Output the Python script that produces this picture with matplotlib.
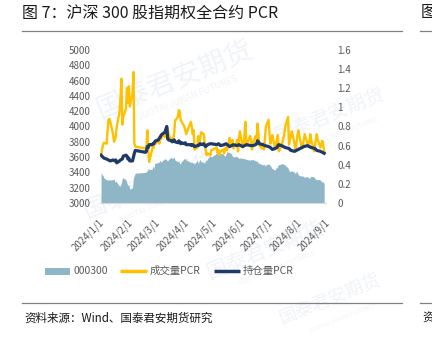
import pandas as pd
import matplotlib
matplotlib.use("Agg")
import matplotlib.pyplot as plt
import matplotlib.dates as mdates
from matplotlib.lines import Line2D
from matplotlib.patches import Rectangle

plt.rcParams['font.family'] = ['Noto Sans CJK SC', 'DejaVu Sans']

# 沪深300收盘价
hs300_dates = [
    '01-02', '01-03', '01-04', '01-05', '01-08', '01-09', '01-10', '01-11', '01-12', '01-15',
    '01-16', '01-17', '01-18', '01-19', '01-22', '01-23', '01-24', '01-25', '01-26', '01-29',
    '01-30', '01-31', '02-01', '02-02', '02-05', '02-06', '02-07', '02-08', '02-19', '02-20',
    '02-21', '02-22', '02-23', '02-26', '02-27', '02-28', '02-29', '03-01', '03-04', '03-05',
    '03-06', '03-07', '03-08', '03-11', '03-12', '03-13', '03-14', '03-15', '03-18', '03-19',
    '03-20', '03-21', '03-22', '03-25', '03-26', '03-27', '03-28', '03-29', '04-01', '04-02',
    '04-03', '04-08', '04-09', '04-10', '04-11', '04-12', '04-15', '04-16', '04-17', '04-18',
    '04-19', '04-22', '04-23', '04-24', '04-25', '04-26', '04-29', '04-30', '05-06', '05-07',
    '05-08', '05-09', '05-10', '05-13', '05-14', '05-15', '05-16', '05-17', '05-20', '05-21',
    '05-22', '05-23', '05-24', '05-27', '05-28', '05-29', '05-30', '05-31', '06-03', '06-04',
    '06-05', '06-06', '06-07', '06-11', '06-12', '06-13', '06-14', '06-17', '06-18', '06-19',
    '06-20', '06-21', '06-24', '06-25', '06-26', '06-27', '06-28', '07-01', '07-02', '07-03',
    '07-04', '07-05', '07-08', '07-09', '07-10', '07-11', '07-12', '07-15', '07-16', '07-17',
    '07-18', '07-19', '07-22', '07-23', '07-24', '07-25', '07-26', '07-29', '07-30', '07-31',
    '08-01', '08-02', '08-05', '08-06', '08-07', '08-08', '08-09', '08-12', '08-13', '08-14',
    '08-15', '08-16', '08-19', '08-20', '08-21', '08-22', '08-23', '08-26', '08-27', '08-28',
    '08-29', '08-30',
]
hs300_close = [
    3400, 3370, 3360, 3330, 3300, 3310, 3290, 3310, 3300, 3305,
    3320, 3270, 3290, 3270, 3220, 3230, 3270, 3320, 3330, 3300,
    3260, 3230, 3240, 3180, 3200, 3330, 3360, 3390, 3400, 3410,
    3420, 3450, 3440, 3440, 3480, 3450, 3520, 3520, 3530, 3540,
    3560, 3530, 3550, 3580, 3570, 3560, 3550, 3570, 3600, 3580,
    3590, 3600, 3560, 3540, 3550, 3510, 3520, 3540, 3580, 3580,
    3560, 3530, 3540, 3520, 3530, 3510, 3560, 3510, 3550, 3570,
    3540, 3530, 3520, 3560, 3550, 3580, 3620, 3600, 3650, 3650,
    3630, 3660, 3650, 3640, 3620, 3610, 3640, 3670, 3660, 3650,
    3640, 3610, 3600, 3610, 3600, 3600, 3580, 3590, 3580, 3590,
    3570, 3580, 3570, 3560, 3570, 3560, 3570, 3550, 3550, 3540,
    3520, 3520, 3500, 3500, 3510, 3480, 3500, 3510, 3500, 3490,
    3460, 3450, 3430, 3460, 3460, 3490, 3500, 3510, 3520, 3500,
    3510, 3490, 3460, 3420, 3410, 3420, 3420, 3400, 3380, 3420,
    3400, 3370, 3350, 3360, 3350, 3340, 3340, 3340, 3340, 3320,
    3340, 3350, 3340, 3320, 3310, 3300, 3310, 3300, 3280, 3270,
    3280, 3250,
]

# 成交量PCR
vol_dates = [
    '01-02', '01-04', '01-05', '01-08', '01-09', '01-10', '01-11', '01-12', '01-15', '01-16',
    '01-17', '01-18', '01-19', '01-22', '01-23', '01-24', '01-25', '01-26', '01-29', '01-30',
    '01-31', '02-01', '02-02', '02-05', '02-06', '02-07', '02-08', '02-19', '02-20', '02-21',
    '02-22', '02-23', '02-26', '02-27', '02-28', '02-29', '03-01', '03-04', '03-05', '03-06',
    '03-07', '03-08', '03-11', '03-12', '03-13', '03-14', '03-15', '03-18', '03-19', '03-20',
    '03-21', '03-22', '03-25', '03-26', '03-27', '03-28', '03-29', '04-01', '04-02', '04-03',
    '04-08', '04-09', '04-10', '04-11', '04-12', '04-15', '04-16', '04-17', '04-18', '04-19',
    '04-22', '04-23', '04-24', '04-25', '04-26', '04-29', '04-30', '05-06', '05-07', '05-08',
    '05-09', '05-10', '05-13', '05-14', '05-15', '05-16', '05-17', '05-20', '05-21', '05-22',
    '05-23', '05-24', '05-27', '05-28', '05-29', '05-30', '05-31', '06-03', '06-04', '06-05',
    '06-06', '06-07', '06-11', '06-12', '06-13', '06-14', '06-17', '06-18', '06-19', '06-20',
    '06-21', '06-24', '06-25', '06-26', '06-27', '06-28', '07-01', '07-02', '07-03', '07-04',
    '07-05', '07-08', '07-09', '07-10', '07-11', '07-12', '07-15', '07-16', '07-17', '07-18',
    '07-19', '07-22', '07-23', '07-24', '07-25', '07-26', '07-29', '07-30', '07-31', '08-01',
    '08-02', '08-05', '08-06', '08-07', '08-08', '08-09', '08-12', '08-13', '08-14', '08-15',
    '08-16', '08-19', '08-20', '08-21', '08-22', '08-23', '08-26', '08-27', '08-28', '08-29',
    '08-30',
]
vol_pcr = [
    0.50, 0.60, 0.63, 0.62, 0.75, 0.87, 0.88, 0.85, 0.72, 0.64,
    0.66, 0.70, 0.80, 0.95, 1.10, 1.30, 0.82, 0.90, 0.99, 1.20,
    1.05, 1.22, 1.01, 1.15, 1.37, 0.62, 0.59, 0.57, 0.58, 0.76,
    0.55, 0.43, 0.55, 0.60, 0.58, 0.64, 0.62, 0.66, 0.62, 0.70,
    0.67, 0.72, 0.69, 0.74, 0.70, 0.78, 0.72, 0.64, 0.68, 0.66,
    0.72, 0.86, 0.90, 0.97, 0.96, 0.87, 0.85, 0.80, 0.76, 0.72,
    0.85, 0.80, 0.72, 0.76, 0.56, 0.58, 0.70, 0.60, 0.66, 0.74,
    0.72, 0.62, 0.55, 0.50, 0.52, 0.50, 0.55, 0.58, 0.52, 0.55,
    0.50, 0.54, 0.56, 0.52, 0.57, 0.58, 0.55, 0.68, 0.62, 0.60,
    0.66, 0.57, 0.62, 0.66, 0.54, 0.68, 0.75, 0.58, 0.62, 0.72,
    0.85, 0.60, 0.70, 0.66, 0.56, 0.62, 0.70, 0.66, 0.83, 0.72,
    0.60, 0.57, 0.62, 0.56, 0.66, 0.80, 0.87, 0.72, 0.62, 0.66,
    0.71, 0.57, 0.62, 0.66, 0.71, 0.54, 0.60, 0.64, 0.68, 0.72,
    0.80, 0.90, 0.61, 0.66, 0.70, 0.75, 0.62, 0.54, 0.62, 0.70,
    0.76, 0.62, 0.57, 0.60, 0.66, 0.72, 0.62, 0.64, 0.62, 0.72,
    0.66, 0.54, 0.60, 0.66, 0.72, 0.66, 0.58, 0.62, 0.65, 0.60,
    0.54,
]

# 持仓量PCR
oi_dates = [
    '01-02', '01-04', '01-05', '01-08', '01-10', '01-12', '01-15', '01-17', '01-18', '01-19',
    '01-22', '01-23', '01-25', '01-26', '01-29', '01-30', '01-31', '02-01', '02-02', '02-05',
    '02-06', '02-07', '02-08', '02-19', '02-20', '02-21', '02-22', '02-23', '02-26', '02-27',
    '02-28', '02-29', '03-01', '03-04', '03-05', '03-06', '03-07', '03-08', '03-11', '03-12',
    '03-13', '03-14', '03-15', '03-18', '03-19', '03-20', '03-21', '03-22', '03-25', '03-26',
    '03-27', '03-28', '03-29', '04-01', '04-02', '04-03', '04-08', '04-09', '04-10', '04-11',
    '04-12', '04-15', '04-16', '04-17', '04-18', '04-19', '04-22', '04-23', '04-24', '04-25',
    '04-26', '04-29', '04-30', '05-06', '05-08', '05-10', '05-14', '05-16', '05-20', '05-22',
    '05-24', '05-28', '05-30', '06-03', '06-05', '06-07', '06-12', '06-14', '06-17', '06-18',
    '06-19', '06-20', '06-21', '06-25', '06-27', '07-01', '07-03', '07-05', '07-08', '07-10',
    '07-11', '07-12', '07-15', '07-17', '07-19', '07-23', '07-25', '07-29', '07-31', '08-02',
    '08-06', '08-08', '08-12', '08-14', '08-16', '08-20', '08-22', '08-26', '08-28', '08-30',
]
oi_pcr = [
    0.50, 0.48, 0.47, 0.46, 0.45, 0.44, 0.45, 0.44, 0.45, 0.42,
    0.44, 0.45, 0.46, 0.49, 0.50, 0.49, 0.46, 0.47, 0.44, 0.44,
    0.48, 0.52, 0.55, 0.53, 0.54, 0.59, 0.58, 0.61, 0.61, 0.62,
    0.62, 0.64, 0.65, 0.66, 0.68, 0.69, 0.71, 0.72, 0.74, 0.77,
    0.80, 0.67, 0.66, 0.65, 0.64, 0.65, 0.66, 0.64, 0.63, 0.65,
    0.64, 0.62, 0.63, 0.62, 0.63, 0.61, 0.61, 0.60, 0.61, 0.60,
    0.59, 0.60, 0.60, 0.61, 0.62, 0.61, 0.62, 0.60, 0.59, 0.60,
    0.61, 0.62, 0.62, 0.61, 0.62, 0.60, 0.61, 0.62, 0.59, 0.60,
    0.61, 0.60, 0.61, 0.59, 0.60, 0.61, 0.60, 0.60, 0.61, 0.62,
    0.65, 0.64, 0.62, 0.61, 0.60, 0.59, 0.58, 0.56, 0.57, 0.58,
    0.60, 0.61, 0.60, 0.59, 0.58, 0.57, 0.55, 0.54, 0.55, 0.56,
    0.58, 0.59, 0.60, 0.59, 0.58, 0.57, 0.55, 0.54, 0.53, 0.52,
]

left_ticks = list(range(3000, 5001, 200))
right_ticks = [0, 0.2, 0.4, 0.6, 0.8, 1.0, 1.2, 1.4, 1.6]
month_ticks = ['2024-%02d-01' % m for m in range(1, 10)]
legend_labels = ['000300', '成交量PCR', '持仓量PCR']


def to_dt(days):
    return pd.to_datetime(['2024-' + d for d in days])


def px(x, y):
    # pixel position (from top-left) -> figure fraction
    return x / 432, 1 - y / 343


AREA = '#8fb6c6'
GOLD = '#ffc000'
NAVY = '#1f3a68'
GREY = '#595959'

fig = plt.figure(figsize=(4.32, 3.43), dpi=100)

# faint company watermark behind everything
wm_color = '#f0f3f8'
for x, y, s in [(175, 80, 20), (330, 115, 14), (150, 185, 17), (265, 250, 15), (330, 300, 13)]:
    fx, fy = px(x, y)
    fig.text(fx, fy, '国泰君安期货', fontsize=s, color=wm_color, rotation=22,
             ha='center', va='center', zorder=-5)
    fx, fy = px(x + 12, y + 18)
    fig.text(fx, fy, 'GUOTAI JUNAN FUTURES', fontsize=s * 0.33,
             color=wm_color, rotation=22, ha='center', va='center', zorder=-5)

# x range runs a few days past Sep 1 so the last (shifted) date label still shows
ax = fig.add_axes([100.1 / 432, 1 - 203 / 343, 228.7 / 432, 153 / 343])
ax.patch.set_alpha(0)
ax2 = ax.twinx()

ax.fill_between(to_dt(hs300_dates), hs300_close, 3000, color=AREA, lw=0)
ax2.plot(to_dt(vol_dates), vol_pcr, color=GOLD, lw=1.7, solid_joinstyle='round')
ax2.plot(to_dt(oi_dates), oi_pcr, color=NAVY, lw=2.3, solid_joinstyle='round')

# date labels sit slightly right of their month tick, slanted 45 degrees
ticks = pd.to_datetime(month_ticks)
ax.set_xticks(ticks + pd.Timedelta(days=3))
ax.set_xticklabels(['%d/%d/%d' % (t.year, t.month, t.day) for t in ticks],
                   rotation=45, ha='right', va='center', rotation_mode='anchor')

ax.set_xlim(pd.Timestamp('2024-01-01'), pd.Timestamp('2024-09-04'))
ax.set_ylim(3000, 5000)
ax2.set_ylim(0, 1.6)
ax.set_yticks(left_ticks)
ax2.set_yticks(right_ticks)
ax2.set_yticklabels(['%g' % v for v in right_ticks])

for a in (ax, ax2):
    for sp in a.spines.values():
        sp.set_visible(False)
    a.tick_params(length=0, labelsize=7, labelcolor=GREY)
ax.spines['bottom'].set_visible(True)
ax.spines['bottom'].set_bounds(mdates.date2num(pd.Timestamp('2024-01-01')),
                               mdates.date2num(pd.Timestamp('2024-09-01')))
ax.spines['bottom'].set_color('#d9d9d9')
ax.tick_params(axis='y', pad=7)
ax.tick_params(axis='x', pad=13)
ax2.tick_params(axis='y', pad=6)

# legend drawn by hand: swatch + label for each series
leg_y = 271
swatches = [(45, 70, 'patch', AREA), (120, 147, 'line', GOLD), (214, 240, 'line', NAVY)]
for (x0, x1, kind, col), label in zip(swatches, legend_labels):
    if kind == 'patch':
        (fx0, fy0), (fx1, fy1) = px(x0, leg_y + 3.5), px(x1, leg_y - 3.5)
        fig.add_artist(Rectangle((fx0, fy0), fx1 - fx0, fy1 - fy0, facecolor=col,
                                 edgecolor='none', transform=fig.transFigure))
    else:
        (fx0, fy), (fx1, _) = px(x0, leg_y), px(x1, leg_y)
        fig.add_artist(Line2D([fx0, fx1], [fy, fy], color=col, lw=2.5,
                              solid_capstyle='butt'))
    fx, fy = px(x1 + 3, leg_y)
    fig.text(fx, fy, label, fontsize=7.5, color=GREY, ha='left', va='center')

# header and footer
fig.text(*px(22, 13), '图 7：沪深 300 股指期权全合约 PCR', fontsize=11.5,
         color='#1a1a1a', va='center', ha='left')
fig.text(*px(421, 13), '图', fontsize=11.5, color='#1a1a1a', va='center', ha='left')
for y in (30.5, 303):
    fig.add_artist(Line2D([22 / 432, 402 / 432], [1 - y / 343] * 2, color='#808080', lw=0.9))
    fig.add_artist(Line2D([420 / 432, 1], [1 - y / 343] * 2, color='#808080', lw=0.9))
fig.text(*px(24, 318), '资料来源：Wind、国泰君安期货研究', fontsize=8.3,
         color='#1a1a1a', va='center', ha='left')
fig.text(*px(422, 318), '资', fontsize=8.3, color='#1a1a1a', va='center', ha='left')

fig.savefig('out.png', dpi=100)
